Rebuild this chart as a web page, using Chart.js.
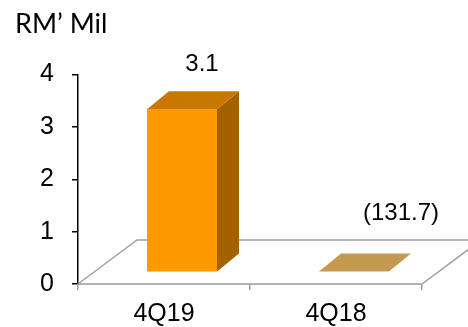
<!DOCTYPE html>
<html>
<head>
<meta charset="utf-8">
<script src="https://cdn.jsdelivr.net/npm/chart.js@4/dist/chart.umd.min.js"></script>
<style>
  html, body { margin: 0; padding: 0; background: #fff; }
  canvas { display: block; }
</style>
</head>
<body>
<canvas id="chart" width="468" height="327"></canvas>
<script>
// Quarterly profit, RM' million
const categories = ['4Q19', '4Q18'];
const profitValues = [3.1, -131.7];
const yTickValues = [0, 1, 2, 3, 4];
const unitLabel = 'RM\u2019 Mil';

// Face colours for each box: front, top, side
const frontColors = ['#FF9900', '#C49A50'];
const topColors = ['#C87800', '#C49A50'];
const sideColors = ['#A26200', '#A8823E'];

const TEXT_FONT = 'Liberation Sans, Arial, sans-serif';

function formatValue(v) {
  return v < 0 ? '(' + Math.abs(v).toFixed(1) + ')' : v.toFixed(1);
}

// Floor, 3D boxes and value labels
const boxes3d = {
  id: 'boxes3d',
  beforeDatasetsDraw(chart) {
    const { ctx, chartArea, scales } = chart;
    const yb = scales.y.getPixelForValue(scales.y.min);
    const dx = 59, dy = 44;
    ctx.save();
    ctx.beginPath();
    ctx.moveTo(chartArea.left, yb);
    ctx.lineTo(chartArea.left + dx, yb - dy);
    ctx.lineTo(chartArea.right + dx, yb - dy);
    ctx.lineTo(chartArea.right, yb);
    ctx.closePath();
    ctx.fillStyle = '#ffffff';
    ctx.fill();
    ctx.strokeStyle = '#A0A0A0';
    ctx.lineWidth = 1.5;
    ctx.stroke();
    ctx.restore();
  },
  afterDatasetsDraw(chart) {
    const { ctx, scales } = chart;
    const y = scales.y;
    const meta = chart.getDatasetMeta(0);
    const ox = 18, oy = -12.5;   // box placement inside the floor depth
    const bx = 22, by = 18;      // box depth
    const yb = y.getPixelForValue(y.min);
    ctx.save();
    meta.data.forEach((el, i) => {
      const raw = profitValues[i];
      const v = Math.max(y.min, Math.min(y.max, raw));
      const xL = el.x - el.width / 2 + ox;
      const xR = xL + el.width;
      const yBot = yb + oy;
      const yTop = y.getPixelForValue(v) + oy;
      if (yBot - yTop > 0.5) {
        // front
        ctx.fillStyle = frontColors[i];
        ctx.fillRect(xL, yTop, xR - xL, yBot - yTop);
        // side
        ctx.beginPath();
        ctx.moveTo(xR, yTop);
        ctx.lineTo(xR + bx, yTop - by);
        ctx.lineTo(xR + bx, yBot - by);
        ctx.lineTo(xR, yBot);
        ctx.closePath();
        ctx.fillStyle = sideColors[i];
        ctx.fill();
      }
      // top
      ctx.beginPath();
      ctx.moveTo(xL, yTop);
      ctx.lineTo(xR, yTop);
      ctx.lineTo(xR + bx, yTop - by);
      ctx.lineTo(xL + bx, yTop - by);
      ctx.closePath();
      ctx.fillStyle = topColors[i];
      ctx.fill();

      // value label
      ctx.fillStyle = '#000';
      ctx.font = '24px ' + TEXT_FONT;
      ctx.textAlign = 'center';
      ctx.textBaseline = 'middle';
      if (raw >= y.min) {
        ctx.fillText(formatValue(raw), (xL + xR) / 2 + 20, yTop - by - 27);
      } else {
        ctx.fillText(formatValue(raw), xR + bx - 10, yTop - by - 40);
      }
    });
    ctx.restore();
  },
  afterDraw(chart) {
    const { ctx } = chart;
    ctx.save();
    ctx.fillStyle = '#000';
    ctx.font = '27px Lato, sans-serif';
    ctx.textAlign = 'left';
    ctx.textBaseline = 'middle';
    ctx.fillText(unitLabel, 15, 24);
    ctx.restore();
  }
};

new Chart(document.getElementById('chart'), {
  type: 'bar',
  data: {
    labels: categories,
    datasets: [{
      data: profitValues,
      backgroundColor: 'rgba(0,0,0,0)',
      borderWidth: 0,
      categoryPercentage: 1,
      barPercentage: 0.407
    }]
  },
  options: {
    responsive: false,
    animation: false,
    devicePixelRatio: 1,
    layout: { padding: { top: 74.5, right: 46, left: 0, bottom: 0 } },
    plugins: { legend: { display: false }, tooltip: { enabled: false } },
    scales: {
      x: {
        grid: { drawOnChartArea: false, tickLength: 6, color: '#A0A0A0', lineWidth: 1.5 },
        border: { color: '#A0A0A0', width: 1.5 },
        ticks: { color: '#000', font: { family: TEXT_FONT, size: 25 }, padding: 9 },
        afterFit(scale) { scale.height = 43; }
      },
      y: {
        min: 0,
        max: 4,
        afterBuildTicks(scale) { scale.ticks = yTickValues.map(v => ({ value: v })); },
        grid: { drawOnChartArea: false, tickLength: 6, color: '#000', lineWidth: 1.5 },
        border: { color: '#000', width: 1.5 },
        ticks: { color: '#000', font: { family: TEXT_FONT, size: 25 }, padding: 18 },
        afterFit(scale) { scale.width = 78; }
      }
    }
  },
  plugins: [boxes3d]
});
</script>
</body>
</html>
